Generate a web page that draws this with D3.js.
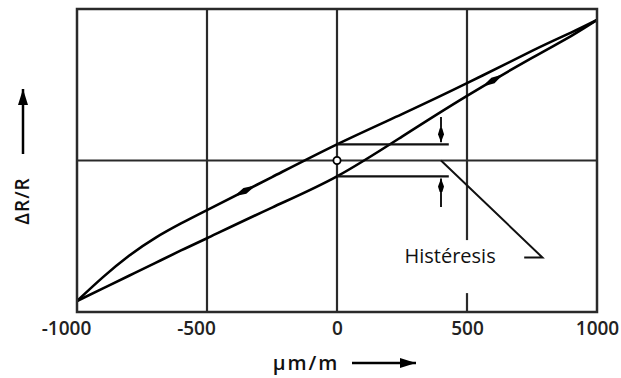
<!DOCTYPE html>
<html>
<head>
<meta charset="utf-8">
<script src="https://cdn.jsdelivr.net/npm/d3@7"></script>
<style>
body { margin: 0; background: #fff; }
text { font-family: "Open Sans", sans-serif; }
</style>
</head>
<body>
<script>
// strain (µm/m) and the two branches of the loop (ΔR/R, relative units)
const strain = [-1000, -900, -800, -700, -600, -500, -250, 0, 250, 500, 750, 900, 1000]
const loading = [-1, -0.91, -0.82, -0.73, -0.64, -0.553, -0.335, -0.113, 0.17, 0.46, 0.73, 0.885, 1]
const unloading = [-1, -0.83, -0.678, -0.552, -0.448, -0.353, -0.118, 0.115, 0.33, 0.55, 0.78, 0.91, 1]

const xTicks = [-1000, -500, 0, 500, 1000]
const xGrid = [-500, 0, 500]
const yGrid = [0]

// hysteresis annotation, in data units
const noteText = "Histéresis"
const noteGapEnd = 430          // where the two horizontal lines stop
const noteArrowX = 400          // x of the two small vertical arrows
const noteArrowFrom = [0.31, -0.33]
const leader = [[400, 0], [790, -0.69], [720, -0.69]]
const notePos = [435, -0.73]

const w = 621
const h = 378

let svg = d3.select("body")
            .append("svg")
            .attr("width", w)
            .attr("height", h)

const x = d3.scaleLinear().domain([-1000, 1000]).range([77, 597])
const y = d3.scaleLinear().domain([-1.078, 1.078]).range([312, 9])

let defs = svg.append("defs")
defs.append("marker")
    .attr("id", "tip")
    .attr("viewBox", "0 0 14 7")
    .attr("refX", 14).attr("refY", 3.5)
    .attr("markerWidth", 14).attr("markerHeight", 7)
    .attr("markerUnits", "userSpaceOnUse")
    .attr("orient", "auto")
    .append("path")
    .attr("d", "M0,2.3 L6,0.5 L14,3.5 L6,6.5 L0,4.7 Z")
    .attr("fill", "#000")
defs.append("marker")
    .attr("id", "big")
    .attr("viewBox", "0 0 16 10")
    .attr("refX", 16).attr("refY", 5)
    .attr("markerWidth", 16).attr("markerHeight", 10)
    .attr("markerUnits", "userSpaceOnUse")
    .attr("orient", "auto")
    .append("path")
    .attr("d", "M0,0 L16,5 L0,10 Z")
    .attr("fill", "#000")

//grid lines
svg.selectAll(".vgrid")
    .data(xGrid)
    .enter()
    .append("line")
    .attr("class", "vgrid")
    .attr("x1", d => x(d)).attr("x2", d => x(d))
    .attr("y1", y.range()[0]).attr("y2", y.range()[1])
    .attr("stroke", "#2a2a2a")
    .attr("stroke-width", 2.2)

svg.selectAll(".hgrid")
    .data(yGrid)
    .enter()
    .append("line")
    .attr("class", "hgrid")
    .attr("x1", x.range()[0]).attr("x2", x.range()[1])
    .attr("y1", d => y(d)).attr("y2", d => y(d))
    .attr("stroke", "#2a2a2a")
    .attr("stroke-width", 2.2)

//tick labels
let xAxis = svg.append("g")
    .attr("transform", "translate(0," + y.range()[0] + ")")
    .call(d3.axisBottom(x).tickValues(xTicks).tickSize(0).tickPadding(10)
            .tickFormat(d => String(d)))
xAxis.select(".domain").remove()
xAxis.selectAll("text")
    .attr("dx", d => d < 0 ? -11 : 0)
    .attr("font-family", "Open Sans")
    .attr("font-size", "19px")
    .attr("font-weight", 600)
    .attr("fill", "#222")

//label for the hysteresis, white box hides the grid line behind it
let note = svg.append("g")
let noteBox = note.append("rect").attr("fill", "#fff")
let noteLabel = note.append("text")
    .text(noteText)
    .attr("x", x(notePos[0]))
    .attr("y", y(notePos[1]))
    .attr("text-anchor", "middle")
    .attr("font-size", "20px")
    .attr("fill", "#111")
let bb = noteLabel.node().getBBox()
noteBox.attr("x", bb.x - 3).attr("y", bb.y - 2)
    .attr("width", bb.width + 6).attr("height", bb.height + 26)

//the loop
const line = d3.line()
    .x(d => x(d[0]))
    .y(d => y(d[1]))
    .curve(d3.curveNatural)

let loadPts = strain.map((s, i) => [s, loading[i]])
let unloadPts = strain.map((s, i) => [s, unloading[i]])

let loadPath = svg.append("path")
    .attr("d", line(loadPts))
    .attr("fill", "none").attr("stroke", "#000").attr("stroke-width", 2.6)
let unloadPath = svg.append("path")
    .attr("d", line(unloadPts))
    .attr("fill", "none").attr("stroke", "#000").attr("stroke-width", 2.6)

//direction arrows on the curves
function curveArrow(path, frac, backward) {
    let node = path.node()
    let len = node.getTotalLength()
    let p = node.getPointAtLength(len * frac)
    let q = node.getPointAtLength(len * frac + 2)
    let a = Math.atan2(q.y - p.y, q.x - p.x) * 180 / Math.PI
    if (backward) a += 180
    svg.append("path")
        .attr("d", "M10,0 L-2,-3.2 L-10,-1.2 L-10,1.2 L-2,3.2 Z")
        .attr("transform", "translate(" + p.x + "," + p.y + ") rotate(" + a + ")")
        .attr("fill", "#000")
}
curveArrow(unloadPath, 0.337, true)
curveArrow(loadPath, 0.8, false)

//hysteresis marks at zero strain
let zeroVals = [unloading[strain.indexOf(0)], loading[strain.indexOf(0)]]
svg.selectAll(".gapline")
    .data(zeroVals)
    .enter()
    .append("line")
    .attr("x1", x(0)).attr("x2", x(noteGapEnd))
    .attr("y1", d => y(d)).attr("y2", d => y(d))
    .attr("stroke", "#111").attr("stroke-width", 2.2)

svg.selectAll(".gaparrow")
    .data(zeroVals)
    .enter()
    .append("line")
    .attr("x1", x(noteArrowX)).attr("x2", x(noteArrowX))
    .attr("y1", (d, i) => y(noteArrowFrom[i]))
    .attr("y2", d => y(d) + (d > 0 ? -2 : 2))
    .attr("stroke", "#000").attr("stroke-width", 1.8)
    .attr("marker-end", "url(#tip)")

svg.append("path")
    .attr("d", d3.line().x(d => x(d[0])).y(d => y(d[1]))(leader))
    .attr("fill", "none").attr("stroke", "#111").attr("stroke-width", 2)

svg.append("circle")
    .attr("cx", x(0)).attr("cy", y(0)).attr("r", 3.6)
    .attr("fill", "#fff").attr("stroke", "#000").attr("stroke-width", 1.8)

//frame
svg.append("rect")
    .attr("x", x.range()[0]).attr("y", y.range()[1])
    .attr("width", x.range()[1] - x.range()[0])
    .attr("height", y.range()[0] - y.range()[1])
    .attr("fill", "none").attr("stroke", "#2a2a2a").attr("stroke-width", 2.5)

//axis titles with their arrows
svg.append("text")
    .text("ΔR/R")
    .attr("transform", "translate(29,201) rotate(-90)")
    .attr("text-anchor", "middle")
    .attr("font-size", "19px")
    .attr("font-weight", 600)
    .attr("letter-spacing", 1)
    .attr("fill", "#111")
svg.append("line")
    .attr("x1", 23).attr("x2", 23).attr("y1", 154).attr("y2", 89)
    .attr("stroke", "#000").attr("stroke-width", 2.5)
    .attr("marker-end", "url(#big)")

svg.append("text")
    .text("µm/m")
    .attr("x", 306).attr("y", 370)
    .attr("text-anchor", "middle")
    .attr("font-size", "20px")
    .attr("font-weight", 600)
    .attr("letter-spacing", 2)
    .attr("fill", "#111")
svg.append("line")
    .attr("x1", 352).attr("x2", 416).attr("y1", 363).attr("y2", 363)
    .attr("stroke", "#000").attr("stroke-width", 2.5)
    .attr("marker-end", "url(#big)")
</script>
</body>
</html>
